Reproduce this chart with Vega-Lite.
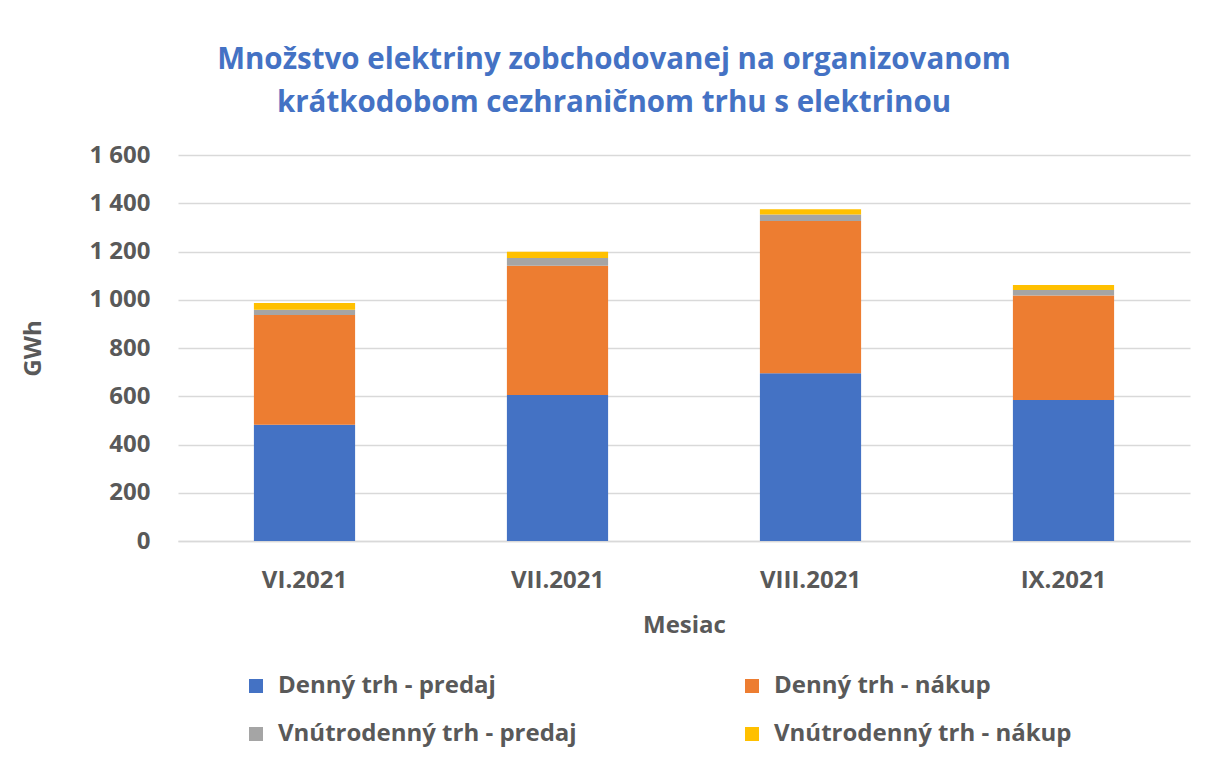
{
  "$schema": "https://vega.github.io/schema/vega-lite/v6.json",
  "width": 1012,
  "height": 386,
  "autosize": {"type": "none"},
  "padding": {"left": 178, "top": 155, "right": 18, "bottom": 221},
  "background": "white",
  "config": {
    "font": "Open Sans",
    "view": {"stroke": null}
  },
  "title": {
    "text": ["Množstvo elektriny zobchodovanej na organizovanom", "krátkodobom cezhraničnom trhu s elektrinou"],
    "color": "#4472C4",
    "font": "Open Sans",
    "fontSize": 29.5,
    "fontWeight": "bold",
    "lineHeight": 43,
    "anchor": "middle",
    "dx": -70,
    "offset": 25
  },
  "data": {
    "values": [
      {"mesiac": "VI.2021", "typ": "Denný trh - predaj", "o": 1, "gwh": 482},
      {"mesiac": "VI.2021", "typ": "Denný trh - nákup", "o": 2, "gwh": 455},
      {"mesiac": "VI.2021", "typ": "Vnútrodenný trh - predaj", "o": 3, "gwh": 22},
      {"mesiac": "VI.2021", "typ": "Vnútrodenný trh - nákup", "o": 4, "gwh": 28},
      {"mesiac": "VII.2021", "typ": "Denný trh - predaj", "o": 1, "gwh": 605},
      {"mesiac": "VII.2021", "typ": "Denný trh - nákup", "o": 2, "gwh": 536},
      {"mesiac": "VII.2021", "typ": "Vnútrodenný trh - predaj", "o": 3, "gwh": 32},
      {"mesiac": "VII.2021", "typ": "Vnútrodenný trh - nákup", "o": 4, "gwh": 26},
      {"mesiac": "VIII.2021", "typ": "Denný trh - predaj", "o": 1, "gwh": 695},
      {"mesiac": "VIII.2021", "typ": "Denný trh - nákup", "o": 2, "gwh": 631},
      {"mesiac": "VIII.2021", "typ": "Vnútrodenný trh - predaj", "o": 3, "gwh": 27},
      {"mesiac": "VIII.2021", "typ": "Vnútrodenný trh - nákup", "o": 4, "gwh": 22},
      {"mesiac": "IX.2021", "typ": "Denný trh - predaj", "o": 1, "gwh": 584},
      {"mesiac": "IX.2021", "typ": "Denný trh - nákup", "o": 2, "gwh": 434},
      {"mesiac": "IX.2021", "typ": "Vnútrodenný trh - predaj", "o": 3, "gwh": 22},
      {"mesiac": "IX.2021", "typ": "Vnútrodenný trh - nákup", "o": 4, "gwh": 21}
    ]
  },
  "mark": {"type": "bar"},
  "encoding": {
    "x": {
      "field": "mesiac",
      "type": "nominal",
      "sort": ["VI.2021", "VII.2021", "VIII.2021", "IX.2021"],
      "scale": {"paddingInner": 0.6, "paddingOuter": 0.3},
      "axis": {
        "title": "Mesiac",
        "titleFontSize": 24,
        "titleFontWeight": "bold",
        "titleColor": "#595959",
        "titlePadding": 21,
        "labelAngle": 0,
        "labelFontSize": 24,
        "labelFontWeight": "bold",
        "labelColor": "#595959",
        "labelPadding": 27,
        "domain": true,
        "domainColor": "#d9d9d9",
        "domainWidth": 1.5,
        "ticks": false,
        "grid": false
      }
    },
    "y": {
      "field": "gwh",
      "type": "quantitative",
      "stack": "zero",
      "scale": {"domain": [0, 1600]},
      "axis": {
        "title": "GWh",
        "titleFontSize": 24,
        "titleFontWeight": "bold",
        "titleColor": "#595959",
        "titlePadding": 43,
        "values": [0, 200, 400, 600, 800, 1000, 1200, 1400, 1600],
        "labelExpr": "replace(format(datum.value, ','), ',', ' ')",
        "labelFontSize": 24,
        "labelFontWeight": "bold",
        "labelColor": "#595959",
        "labelPadding": 28,
        "domain": false,
        "ticks": false,
        "grid": true,
        "gridColor": "#d9d9d9",
        "gridWidth": 1.5
      }
    },
    "color": {
      "field": "typ",
      "type": "nominal",
      "sort": ["Denný trh - predaj", "Denný trh - nákup", "Vnútrodenný trh - predaj", "Vnútrodenný trh - nákup"],
      "scale": {
        "domain": ["Denný trh - predaj", "Denný trh - nákup", "Vnútrodenný trh - predaj", "Vnútrodenný trh - nákup"],
        "range": ["#4472C4", "#ED7D31", "#A5A5A5", "#FFC000"]
      },
      "legend": {
        "title": null,
        "orient": "none",
        "direction": "horizontal",
        "legendX": 66,
        "legendY": 519,
        "columns": 2,
        "columnPadding": 163,
        "rowPadding": 24,
        "symbolType": "square",
        "symbolSize": 196,
        "symbolStrokeWidth": 0,
        "symbolOpacity": 1,
        "labelFontSize": 24,
        "labelFontWeight": "bold",
        "labelColor": "#595959",
        "labelOffset": 10,
        "labelLimit": 400
      }
    },
    "order": {"field": "o", "type": "quantitative"}
  }
}
